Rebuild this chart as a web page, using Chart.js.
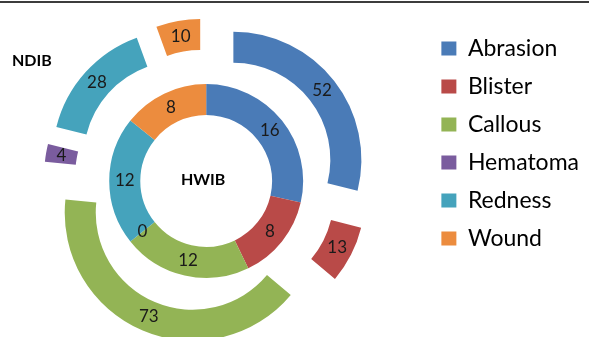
<!DOCTYPE html>
<html>
<head>
<meta charset="utf-8">
<script src="https://cdn.jsdelivr.net/npm/chart.js@4.4.1/dist/chart.umd.min.js"></script>
<style>
  html, body { margin: 0; padding: 0; background: #fff; overflow: hidden; }
  #wrap { position: relative; width: 589px; height: 337px; overflow: hidden; }
  #topline { position: absolute; left: 0; top: 1px; width: 589px; height: 2px; background: #3c3c3c; }
  #chart { position: absolute; left: -14px; top: 0; }
</style>
</head>
<body>
<div id="wrap">
  <canvas id="chart" width="603" height="340"></canvas>
  <div id="topline"></div>
</div>
<script>
// injury types (legend order)
const categories = ["Abrasion", "Blister", "Callous", "Hematoma", "Redness", "Wound"];
// outer ring
const ndibValues = [52, 13, 73, 4, 28, 10];
// inner ring
const hwibValues = [16, 8, 12, 0, 12, 8];
const sliceColors = ["#4A7BB7", "#B94A48", "#93B455", "#7A5C9E", "#45A3BC", "#EC8C3E"];

// how far the outer ring pieces are pulled out
const EXPLODE = 34.5;

// draw the outer ring with every slice pulled out along its bisector
const explodePlugin = {
  id: "explode",
  beforeDatasetDraw(chart, args) {
    if (args.index !== 0) return;
    const ctx = chart.ctx;
    args.meta.data.forEach(arc => {
      const mid = (arc.startAngle + arc.endAngle) / 2;
      ctx.save();
      ctx.translate(Math.cos(mid) * EXPLODE, Math.sin(mid) * EXPLODE);
      arc.draw(ctx);
      ctx.restore();
    });
    return false;
  }
};

// value labels + ring names
const labelPlugin = {
  id: "sliceLabels",
  afterDatasetsDraw(chart) {
    const ctx = chart.ctx;
    ctx.save();
    ctx.font = "17px Lato";
    ctx.fillStyle = "#1a1a1a";
    ctx.textAlign = "center";
    ctx.textBaseline = "middle";
    chart.data.datasets.forEach((ds, di) => {
      const meta = chart.getDatasetMeta(di);
      meta.data.forEach((arc, i) => {
        const mid = (arc.startAngle + arc.endAngle) / 2;
        const r = (arc.innerRadius + arc.outerRadius) / 2 + (di === 0 ? EXPLODE : 0);
        ctx.fillText(String(ds.data[i]), arc.x + Math.cos(mid) * r, arc.y + Math.sin(mid) * r);
      });
    });
    const c = chart.getDatasetMeta(1).data[0];
    ctx.font = "bold 16px Lato";
    ctx.fillStyle = "#000";
    ctx.fillText("HWIB", c.x - 3, c.y - 1);
    ctx.textAlign = "left";
    ctx.fillText("NDIB", 12 + 14, 61);
    ctx.restore();
  }
};

function draw() {
  new Chart(document.getElementById("chart"), {
    type: "doughnut",
    data: {
      labels: categories,
      datasets: [
        { label: "NDIB", data: ndibValues, backgroundColor: sliceColors, borderWidth: 0 },
        { label: "HWIB", data: hwibValues, backgroundColor: sliceColors, borderWidth: 0 }
      ]
    },
    options: {
      responsive: false,
      animation: false,
      radius: 128,
      cutout: "51.5%",
      layout: { padding: { left: 0, right: 0, top: 22, bottom: 0 } },
      plugins: {
        legend: {
          position: "right",
          align: "start",
          labels: {
            boxWidth: 15,
            boxHeight: 14,
            padding: 15,
            color: "#000",
            font: { family: "Lato", size: 23 }
          }
        },
        tooltip: { enabled: false }
      }
    },
    plugins: [explodePlugin, labelPlugin]
  });
}

if (document.fonts && document.fonts.load) {
  Promise.all([document.fonts.load("23px Lato"), document.fonts.load("bold 16px Lato")]).then(draw, draw);
} else {
  draw();
}
</script>
</body>
</html>
